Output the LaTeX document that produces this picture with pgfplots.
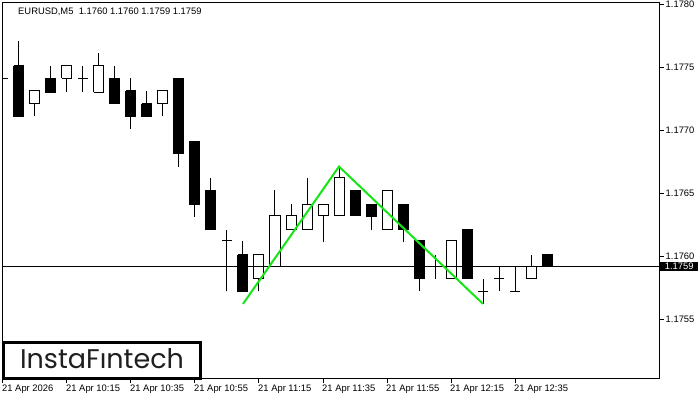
\documentclass[border=0pt]{standalone}
\usepackage{fontspec}
\setmainfont{Liberation Sans}
\newfontfamily\logofont{Poppins}
\usepackage{pgfplots}
\usepackage{pgfplotstable}
\pgfplotsset{compat=1.18}
\definecolor{patgreen}{RGB}{20,230,20}

% exact price -> pips above 1.17 (avoids loss of precision)
\makeatletter
\def\pricetrafo#1{%
  \pgfutil@in@{Y}{#1}%
  \ifpgfutil@in@
    \pgfmathfloattofixed{#1}%
    \edef\pgfmathresult{\fpeval{(\pgfmathresult-1.17)*10000}}%
  \else
    \edef\pgfmathresult{\fpeval{(#1-1.17)*10000}}%
  \fi}
\makeatother

% EURUSD M5 candles: index, open, high, low, close
\pgfplotstableread{
i O H L C
0 1.17741 1.17761 1.17741 1.17741
1 1.17751 1.17771 1.17711 1.17711
2 1.17721 1.17731 1.17711 1.17731
3 1.17741 1.17751 1.17730 1.17730
4 1.17741 1.17751 1.17730 1.17751
5 1.17741 1.17751 1.17730 1.17741
6 1.17730 1.17761 1.17730 1.17751
7 1.17741 1.17751 1.17721 1.17721
8 1.17731 1.17741 1.17701 1.17711
9 1.17721 1.17731 1.17711 1.17711
10 1.17721 1.17731 1.17711 1.17731
11 1.17741 1.17741 1.17671 1.17681
12 1.17691 1.17691 1.17631 1.17641
13 1.17652 1.17662 1.17621 1.17621
14 1.17612 1.17621 1.17572 1.17612
15 1.17601 1.17612 1.17572 1.17572
16 1.17582 1.17601 1.17572 1.17601
17 1.17592 1.17652 1.17592 1.17632
18 1.17621 1.17641 1.17621 1.17632
19 1.17621 1.17662 1.17621 1.17641
20 1.17632 1.17641 1.17611 1.17641
21 1.17632 1.17671 1.17632 1.17662
22 1.17652 1.17652 1.17632 1.17632
23 1.17641 1.17641 1.17621 1.17631
24 1.17621 1.17652 1.17621 1.17652
25 1.17641 1.17641 1.17611 1.17621
26 1.17612 1.17612 1.17572 1.17582
27 1.17592 1.17601 1.17582 1.17592
28 1.17582 1.17612 1.17582 1.17612
29 1.17621 1.17621 1.17582 1.17582
30 1.17572 1.17582 1.17562 1.17572
31 1.17582 1.17592 1.17572 1.17582
32 1.17572 1.17592 1.17572 1.17572
33 1.17582 1.17601 1.17582 1.17592
34 1.17601 1.17601 1.17592 1.17592
}\candles

\begin{document}
\begin{tikzpicture}
\useasboundingbox (0,0) rectangle (700bp,400bp);
\begin{axis}[
  at={(2.5bp,21bp)}, anchor=south west,
  scale only axis, width=657bp, height=376bp,
  xmin=-0.03, xmax=41.03,
  y coord trafo/.code={\pricetrafo{#1}},
  ymin=1.175024, ymax=1.178008,
  xtick={0,4,8,12,16,20,24,28,32},
  xticklabels={21 Apr 2026,21 Apr 10:15,21 Apr 10:35,21 Apr 10:55,21 Apr 11:15,21 Apr 11:35,21 Apr 11:55,21 Apr 12:15,21 Apr 12:35},
  ytick={1.1755,1.1760,1.1765,1.1770,1.1775,1.1780},
  yticklabels={1.1755,1.1760,1.1765,1.1770,1.1775,1.1780},
  xtick pos=left, ytick pos=right, yticklabel pos=right,
  tick align=outside, major tick length=4bp,
  tick style={black, line width=1bp},
  axis line style={black, line width=1bp},
  tick label style={font=\fontsize{9.4bp}{11bp}\selectfont, inner sep=0pt},
  xticklabel style={anchor=north west, xshift=-1bp, yshift=-2bp},
  yticklabel style={anchor=west, xshift=2bp},
]
\pgfplotsforeachungrouped \r in {0,...,34}{%
  \pgfplotstablegetelem{\r}{i}\of\candles \let\ci\pgfplotsretval
  \pgfplotstablegetelem{\r}{O}\of\candles \let\co\pgfplotsretval
  \pgfplotstablegetelem{\r}{H}\of\candles \let\ch\pgfplotsretval
  \pgfplotstablegetelem{\r}{L}\of\candles \let\cl\pgfplotsretval
  \pgfplotstablegetelem{\r}{C}\of\candles \let\cc\pgfplotsretval
  \edef\xl{\fpeval{\ci-0.3125}}\edef\xr{\fpeval{\ci+0.3125}}%
  \edef\tmp{\noexpand\addplot[black, line width=1bp] coordinates {(\ci,\cl) (\ci,\ch)};}\tmp
  \ifnum\fpeval{\cc>\co}=1
    \edef\tmp{\noexpand\addplot[draw=black, fill=white, line width=1bp] coordinates {(\xl,\co) (\xr,\co) (\xr,\cc) (\xl,\cc) (\xl,\co)};}\tmp
  \else
    \ifnum\fpeval{\cc<\co}=1
      \edef\tmp{\noexpand\addplot[draw=black, fill=black, line width=1bp] coordinates {(\xl,\co) (\xr,\co) (\xr,\cc) (\xl,\cc) (\xl,\co)};}\tmp
    \else
      \edef\tmp{\noexpand\addplot[black, line width=1bp] coordinates {(\xl,\co) (\xr,\co)};}\tmp
    \fi
  \fi
}
% bid line
\addplot[black, line width=1bp] coordinates {(-0.03,1.17592) (41.03,1.17592)};
% double top pattern
\addplot[patgreen, line width=2bp] coordinates {(15,1.17562) (21,1.17671) (30,1.17562)};
\end{axis}
% bid label
\node[fill=black, text=white, anchor=west, inner xsep=1bp, inner ysep=0pt, minimum height=9.5bp, minimum width=38bp, font=\fontsize{9.4bp}{11bp}\selectfont] at (660bp,133.5bp) {1.1759};
% title
\node[anchor=base west, inner sep=0pt, font=\fontsize{9.4bp}{11bp}\selectfont] at (18bp,385bp) {EURUSD,M5\ \ 1.1760 1.1760 1.1759 1.1759};
% logo
\draw[line width=2.5bp, fill=white] (3.5bp,21.5bp) rectangle (200.5bp,57.7bp);
\node[anchor=base, inner sep=0pt, text=black!88, font=\logofont\fontsize{27bp}{30bp}\selectfont] at (102bp,31.7bp) {InstaFıntech};
\end{tikzpicture}
\end{document}
